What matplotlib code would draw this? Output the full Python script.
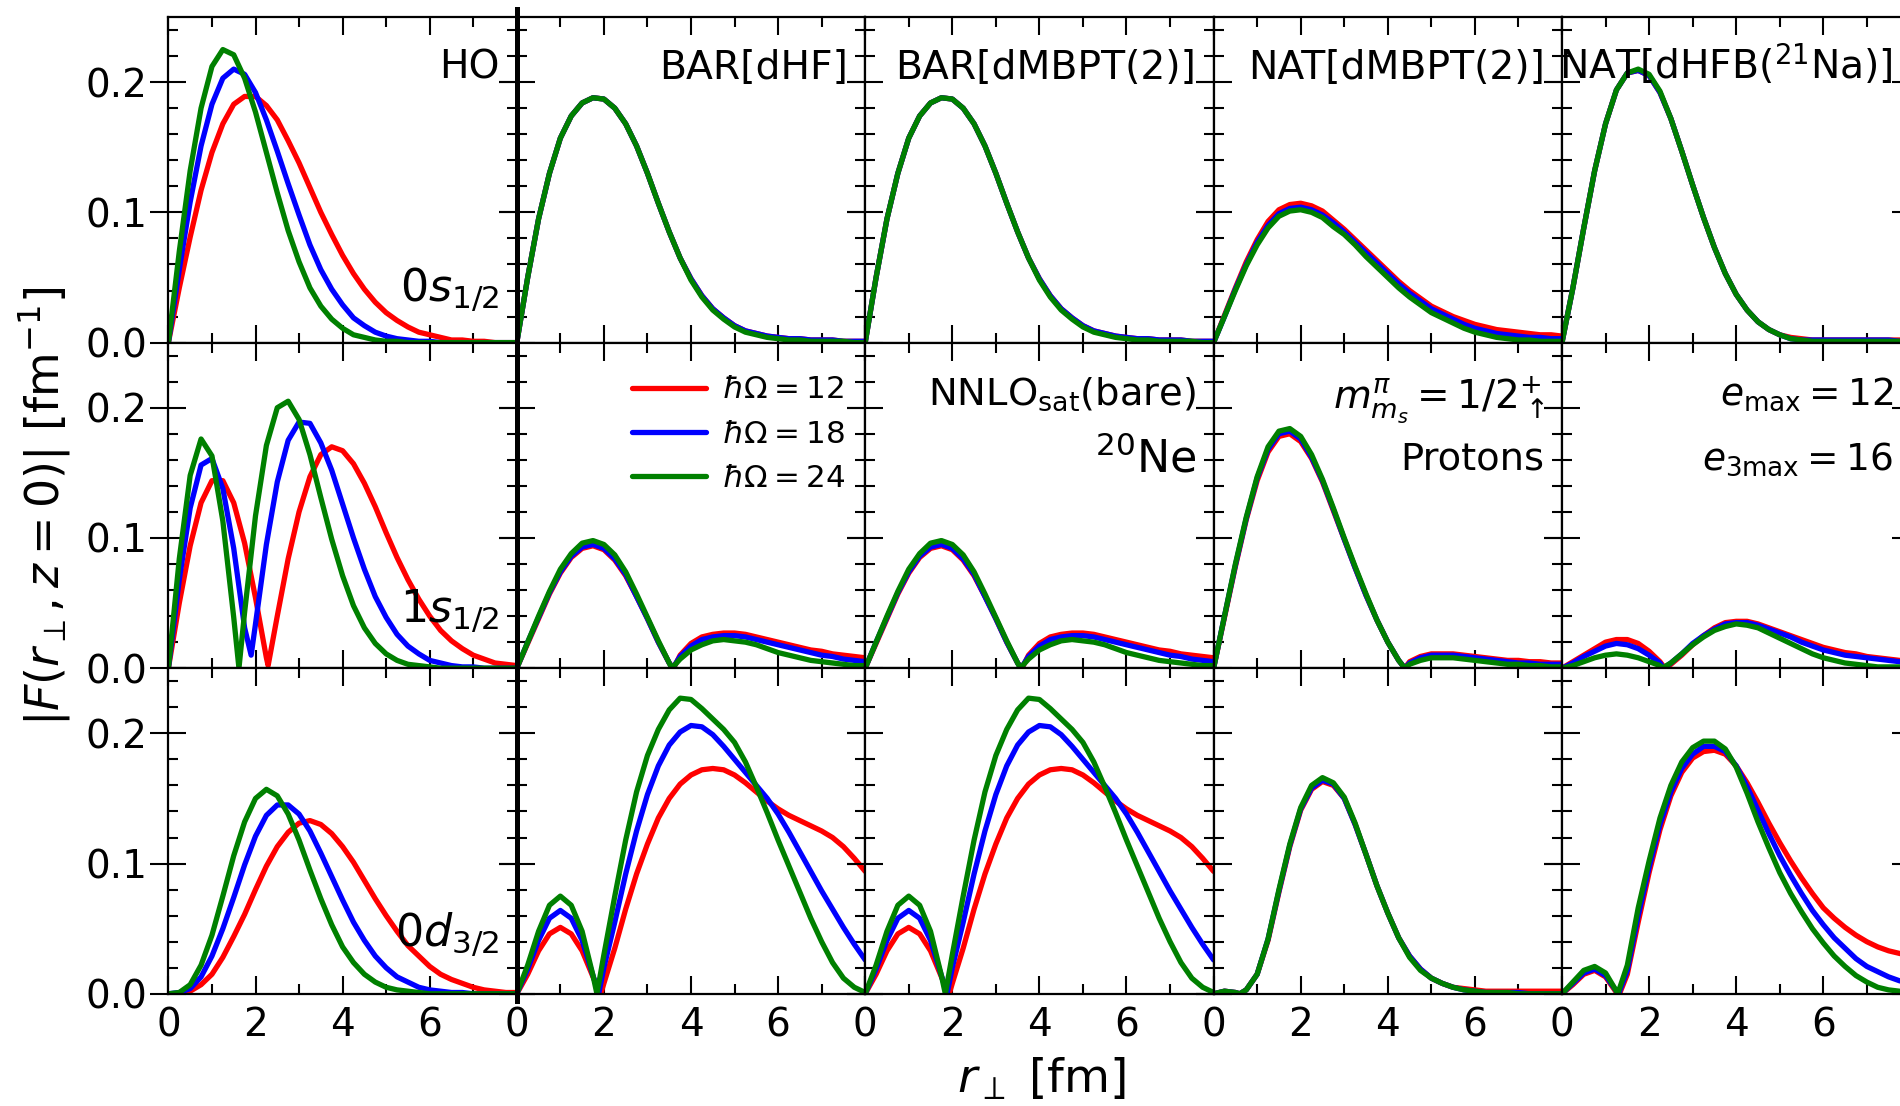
import numpy as np
import matplotlib.pyplot as plt
from matplotlib.lines import Line2D
from matplotlib.ticker import MultipleLocator

# r_perp sampling (fm), 0.25 fm steps
r_perp = np.linspace(0, 8, 33)

hw_labels = [r'$\hbar\Omega = 12$', r'$\hbar\Omega = 18$', r'$\hbar\Omega = 24$']
hw_colors = ['red', 'blue', 'green']
methods = ['HO', 'BAR[dHF]', 'BAR[dMBPT(2)]', 'NAT[dMBPT(2)]', r'NAT[dHFB($^{21}$Na)]']
states = [r'$0s_{1/2}$', r'$1s_{1/2}$', r'$0d_{3/2}$']

# ---- 0s1/2 ----
ho_0s_12 = [0.000, 0.042, 0.081, 0.117, 0.146, 0.168, 0.183, 0.189, 0.189, 0.182, 0.171, 0.155, 0.138, 0.119, 0.100, 0.083,
            0.067, 0.053, 0.041, 0.031, 0.023, 0.017, 0.012, 0.008, 0.006, 0.004, 0.002, 0.002, 0.001, 0.001, 0.000, 0.000, 0.000]
ho_0s_18 = [0.000, 0.056, 0.108, 0.151, 0.183, 0.203, 0.210, 0.206, 0.192, 0.171, 0.147, 0.122, 0.098, 0.075, 0.056, 0.041,
            0.029, 0.019, 0.013, 0.008, 0.005, 0.003, 0.002, 0.001, 0.001, 0.000, 0.000, 0.000, 0.000, 0.000, 0.000, 0.000, 0.000]
ho_0s_24 = [0.000, 0.070, 0.132, 0.180, 0.212, 0.225, 0.221, 0.203, 0.177, 0.146, 0.115, 0.086, 0.062, 0.042, 0.028, 0.018,
            0.011, 0.006, 0.004, 0.002, 0.001, 0.001, 0.000, 0.000, 0.000, 0.000, 0.000, 0.000, 0.000, 0.000, 0.000, 0.000, 0.000]

bar_0s_12 = [0.000, 0.050, 0.095, 0.130, 0.157, 0.174, 0.184, 0.188, 0.187, 0.180, 0.168, 0.151, 0.130, 0.107, 0.085, 0.065,
             0.049, 0.036, 0.026, 0.019, 0.013, 0.009, 0.007, 0.005, 0.004, 0.003, 0.003, 0.002, 0.002, 0.002, 0.001, 0.001, 0.001]
bar_0s_18 = [0.000, 0.050, 0.095, 0.130, 0.157, 0.174, 0.184, 0.188, 0.187, 0.180, 0.168, 0.151, 0.130, 0.107, 0.085, 0.065,
             0.049, 0.036, 0.026, 0.019, 0.013, 0.009, 0.007, 0.005, 0.004, 0.003, 0.003, 0.002, 0.002, 0.002, 0.001, 0.001, 0.001]
bar_0s_24 = [0.000, 0.050, 0.095, 0.130, 0.157, 0.174, 0.184, 0.188, 0.187, 0.180, 0.168, 0.151, 0.130, 0.107, 0.085, 0.065,
             0.048, 0.035, 0.025, 0.018, 0.012, 0.008, 0.006, 0.004, 0.003, 0.002, 0.002, 0.001, 0.001, 0.001, 0.001, 0.000, 0.000]

nat_0s_12 = [0.000, 0.021, 0.042, 0.062, 0.079, 0.093, 0.102, 0.106, 0.107, 0.105, 0.101, 0.094, 0.087, 0.079, 0.071, 0.063,
             0.055, 0.047, 0.040, 0.034, 0.028, 0.024, 0.020, 0.017, 0.014, 0.012, 0.010, 0.009, 0.008, 0.007, 0.006, 0.006, 0.005]
nat_0s_18 = [0.000, 0.020, 0.041, 0.060, 0.077, 0.090, 0.099, 0.103, 0.104, 0.102, 0.098, 0.092, 0.085, 0.077, 0.069, 0.061,
             0.053, 0.045, 0.038, 0.032, 0.026, 0.022, 0.018, 0.014, 0.011, 0.009, 0.007, 0.006, 0.005, 0.004, 0.004, 0.003, 0.003]
nat_0s_24 = [0.000, 0.020, 0.040, 0.059, 0.075, 0.088, 0.097, 0.101, 0.102, 0.100, 0.096, 0.089, 0.083, 0.075, 0.066, 0.058,
             0.050, 0.042, 0.035, 0.029, 0.023, 0.019, 0.015, 0.011, 0.008, 0.006, 0.004, 0.003, 0.002, 0.002, 0.001, 0.001, 0.001]

nah_0s_12 = [0.000, 0.042, 0.088, 0.132, 0.168, 0.194, 0.207, 0.209, 0.205, 0.192, 0.172, 0.147, 0.121, 0.096, 0.073, 0.053,
             0.037, 0.025, 0.016, 0.010, 0.006, 0.004, 0.003, 0.002, 0.002, 0.002, 0.002, 0.002, 0.002, 0.002, 0.002, 0.002, 0.002]
nah_0s_18 = [0.000, 0.042, 0.088, 0.132, 0.168, 0.194, 0.207, 0.209, 0.205, 0.192, 0.172, 0.147, 0.121, 0.096, 0.073, 0.053,
             0.037, 0.025, 0.016, 0.010, 0.006, 0.003, 0.002, 0.002, 0.002, 0.002, 0.002, 0.002, 0.002, 0.002, 0.002, 0.001, 0.001]
nah_0s_24 = [0.000, 0.042, 0.088, 0.132, 0.168, 0.194, 0.207, 0.210, 0.206, 0.193, 0.172, 0.147, 0.121, 0.096, 0.073, 0.053,
             0.037, 0.025, 0.016, 0.010, 0.006, 0.003, 0.002, 0.001, 0.001, 0.001, 0.001, 0.001, 0.001, 0.001, 0.001, 0.001, 0.001]

# ---- 1s1/2 ----
ho_1s_12 = [0.000, 0.050, 0.094, 0.127, 0.144, 0.144, 0.127, 0.096, 0.054, 0.008, 0.040, 0.084, 0.120, 0.147, 0.164, 0.170,
            0.167, 0.157, 0.142, 0.124, 0.104, 0.085, 0.068, 0.053, 0.040, 0.029, 0.021, 0.015, 0.010, 0.007, 0.004, 0.003, 0.002]
ho_1s_18 = [0.000, 0.068, 0.123, 0.156, 0.161, 0.138, 0.092, 0.031, 0.034, 0.095, 0.143, 0.175, 0.189, 0.188, 0.173, 0.152,
            0.126, 0.100, 0.076, 0.055, 0.039, 0.026, 0.017, 0.011, 0.006, 0.004, 0.002, 0.001, 0.001, 0.000, 0.000, 0.000, 0.000]
ho_1s_24 = [0.000, 0.084, 0.148, 0.176, 0.163, 0.113, 0.039, 0.043, 0.117, 0.171, 0.200, 0.205, 0.191, 0.164, 0.131, 0.099,
            0.071, 0.048, 0.031, 0.019, 0.011, 0.006, 0.003, 0.002, 0.001, 0.000, 0.000, 0.000, 0.000, 0.000, 0.000, 0.000, 0.000]
ho_1s_nodes = [(2.29, 0.002), (1.90, 0.010), (1.62, 0.000)]

bar_1s_12 = [0.000, 0.019, 0.038, 0.057, 0.073, 0.085, 0.092, 0.094, 0.091, 0.083, 0.071, 0.055, 0.038, 0.020, 0.004, 0.010,
             0.019, 0.024, 0.026, 0.027, 0.027, 0.026, 0.024, 0.022, 0.020, 0.018, 0.016, 0.014, 0.013, 0.011, 0.010, 0.009, 0.008]
bar_1s_18 = [0.000, 0.020, 0.039, 0.058, 0.074, 0.086, 0.093, 0.095, 0.092, 0.084, 0.072, 0.055, 0.038, 0.020, 0.004, 0.009,
             0.017, 0.022, 0.024, 0.025, 0.025, 0.024, 0.022, 0.020, 0.018, 0.016, 0.014, 0.012, 0.010, 0.009, 0.007, 0.006, 0.005]
bar_1s_24 = [0.000, 0.020, 0.040, 0.059, 0.076, 0.088, 0.096, 0.098, 0.095, 0.087, 0.074, 0.057, 0.039, 0.021, 0.004, 0.007,
             0.014, 0.018, 0.021, 0.022, 0.021, 0.020, 0.018, 0.015, 0.012, 0.010, 0.008, 0.006, 0.005, 0.004, 0.003, 0.002, 0.002]
bar_1s_nodes = [(3.60, 0.0), (3.58, 0.0), (3.56, 0.0)]

nat_1s_12 = [0.000, 0.039, 0.078, 0.114, 0.144, 0.166, 0.178, 0.180, 0.174, 0.161, 0.143, 0.121, 0.099, 0.077, 0.056, 0.037,
             0.020, 0.006, 0.005, 0.009, 0.011, 0.011, 0.011, 0.010, 0.009, 0.008, 0.007, 0.006, 0.006, 0.005, 0.005, 0.004, 0.004]
nat_1s_18 = [0.000, 0.040, 0.079, 0.115, 0.146, 0.168, 0.180, 0.182, 0.176, 0.162, 0.144, 0.122, 0.099, 0.077, 0.056, 0.037,
             0.020, 0.006, 0.004, 0.008, 0.010, 0.010, 0.010, 0.009, 0.008, 0.007, 0.006, 0.005, 0.004, 0.004, 0.003, 0.003, 0.003]
nat_1s_24 = [0.000, 0.040, 0.080, 0.116, 0.147, 0.170, 0.182, 0.184, 0.178, 0.164, 0.145, 0.123, 0.100, 0.078, 0.057, 0.037,
             0.020, 0.006, 0.003, 0.006, 0.008, 0.008, 0.008, 0.007, 0.006, 0.005, 0.004, 0.003, 0.003, 0.002, 0.002, 0.001, 0.001]
nat_1s_nodes = [(4.39, 0.0), (4.39, 0.0), (4.39, 0.0)]

nah_1s_12 = [0.000, 0.005, 0.010, 0.015, 0.020, 0.022, 0.022, 0.019, 0.013, 0.005, 0.003, 0.010, 0.018, 0.025, 0.031, 0.035,
             0.036, 0.036, 0.034, 0.031, 0.028, 0.025, 0.022, 0.019, 0.016, 0.014, 0.012, 0.011, 0.009, 0.008, 0.007, 0.006, 0.006]
nah_1s_18 = [0.000, 0.004, 0.009, 0.013, 0.017, 0.019, 0.018, 0.015, 0.010, 0.004, 0.004, 0.011, 0.019, 0.025, 0.030, 0.034,
             0.035, 0.035, 0.033, 0.030, 0.027, 0.024, 0.020, 0.017, 0.014, 0.012, 0.010, 0.009, 0.008, 0.007, 0.006, 0.005, 0.005]
nah_1s_24 = [0.000, 0.002, 0.005, 0.008, 0.010, 0.011, 0.010, 0.008, 0.005, 0.002, 0.004, 0.011, 0.018, 0.024, 0.029, 0.032,
             0.034, 0.033, 0.031, 0.027, 0.023, 0.019, 0.015, 0.011, 0.008, 0.006, 0.004, 0.003, 0.002, 0.001, 0.001, 0.001, 0.000]
nah_1s_nodes = [(2.36, 0.0), (2.33, 0.0), (2.30, 0.0)]

# ---- 0d3/2 ----
ho_0d_12 = [0.000, 0.000, 0.002, 0.007, 0.015, 0.028, 0.044, 0.061, 0.080, 0.098, 0.113, 0.124, 0.131, 0.133, 0.130, 0.123,
            0.113, 0.101, 0.087, 0.073, 0.060, 0.048, 0.037, 0.029, 0.021, 0.015, 0.011, 0.008, 0.005, 0.003, 0.002, 0.001, 0.001]
ho_0d_18 = [0.000, 0.001, 0.004, 0.013, 0.029, 0.050, 0.074, 0.099, 0.121, 0.137, 0.145, 0.145, 0.138, 0.125, 0.108, 0.090,
            0.072, 0.055, 0.041, 0.029, 0.020, 0.013, 0.009, 0.005, 0.003, 0.002, 0.001, 0.001, 0.000, 0.000, 0.000, 0.000, 0.000]
ho_0d_24 = [0.000, 0.001, 0.007, 0.022, 0.045, 0.075, 0.106, 0.132, 0.150, 0.157, 0.152, 0.138, 0.118, 0.095, 0.073, 0.053,
            0.036, 0.024, 0.015, 0.009, 0.005, 0.003, 0.002, 0.001, 0.000, 0.000, 0.000, 0.000, 0.000, 0.000, 0.000, 0.000, 0.000]

bar_0d_12 = [0.000, 0.015, 0.033, 0.046, 0.051, 0.046, 0.033, 0.013, 0.008, 0.035, 0.065, 0.092, 0.115, 0.135, 0.150, 0.161,
             0.168, 0.172, 0.173, 0.172, 0.168, 0.162, 0.155, 0.148, 0.142, 0.137, 0.133, 0.129, 0.125, 0.120, 0.113, 0.104, 0.094]
bar_0d_18 = [0.000, 0.019, 0.041, 0.058, 0.064, 0.058, 0.041, 0.014, 0.020, 0.055, 0.092, 0.125, 0.153, 0.175, 0.191, 0.201,
             0.206, 0.205, 0.199, 0.190, 0.180, 0.170, 0.160, 0.150, 0.138, 0.124, 0.109, 0.094, 0.079, 0.065, 0.051, 0.038, 0.026]
bar_0d_24 = [0.000, 0.022, 0.048, 0.068, 0.075, 0.068, 0.048, 0.014, 0.030, 0.075, 0.118, 0.155, 0.183, 0.203, 0.218, 0.227,
             0.226, 0.219, 0.211, 0.203, 0.193, 0.178, 0.159, 0.139, 0.118, 0.098, 0.078, 0.058, 0.040, 0.024, 0.012, 0.005, 0.001]
bar_0d_nodes = [(1.93, 0.0), (1.88, 0.0), (1.84, 0.0)]

nat_0d_12 = [0.000, 0.002, 0.001, 0.003, 0.015, 0.041, 0.078, 0.113, 0.141, 0.157, 0.163, 0.160, 0.150, 0.130, 0.107, 0.083,
             0.062, 0.043, 0.029, 0.019, 0.012, 0.008, 0.005, 0.004, 0.003, 0.002, 0.002, 0.002, 0.002, 0.002, 0.002, 0.002, 0.002]
nat_0d_18 = [0.000, 0.002, 0.001, 0.003, 0.015, 0.042, 0.079, 0.114, 0.142, 0.158, 0.164, 0.161, 0.150, 0.130, 0.107, 0.083,
             0.062, 0.043, 0.029, 0.019, 0.012, 0.008, 0.005, 0.003, 0.002, 0.001, 0.001, 0.001, 0.001, 0.000, 0.000, 0.000, 0.000]
nat_0d_24 = [0.000, 0.002, 0.001, 0.003, 0.015, 0.042, 0.080, 0.115, 0.143, 0.160, 0.166, 0.162, 0.151, 0.131, 0.107, 0.083,
             0.062, 0.043, 0.028, 0.018, 0.012, 0.008, 0.005, 0.003, 0.002, 0.001, 0.001, 0.001, 0.000, 0.000, 0.000, 0.000, 0.000]
nat_0d_nodes = [(0.60, 0.0), (0.60, 0.0), (0.60, 0.0)]

nah_0d_12 = [0.000, 0.007, 0.015, 0.018, 0.013, 0.001, 0.015, 0.055, 0.093, 0.126, 0.152, 0.170, 0.181, 0.186, 0.187, 0.184,
             0.175, 0.162, 0.147, 0.131, 0.116, 0.102, 0.089, 0.077, 0.066, 0.058, 0.051, 0.045, 0.040, 0.036, 0.033, 0.031, 0.029]
nah_0d_18 = [0.000, 0.008, 0.016, 0.019, 0.014, 0.002, 0.018, 0.060, 0.097, 0.130, 0.155, 0.173, 0.184, 0.190, 0.190, 0.186,
             0.175, 0.159, 0.141, 0.123, 0.106, 0.091, 0.077, 0.064, 0.053, 0.043, 0.035, 0.027, 0.021, 0.017, 0.013, 0.010, 0.008]
nah_0d_24 = [0.000, 0.009, 0.018, 0.021, 0.016, 0.002, 0.022, 0.066, 0.102, 0.135, 0.160, 0.178, 0.189, 0.194, 0.194, 0.188,
             0.174, 0.154, 0.132, 0.112, 0.093, 0.077, 0.063, 0.050, 0.039, 0.029, 0.021, 0.014, 0.009, 0.005, 0.003, 0.002, 0.001]
nah_0d_nodes = [(1.32, 0.0), (1.30, 0.0), (1.28, 0.0)]

panels = [
    [(ho_0s_12, ho_0s_18, ho_0s_24), (bar_0s_12, bar_0s_18, bar_0s_24), (bar_0s_12, bar_0s_18, bar_0s_24),
     (nat_0s_12, nat_0s_18, nat_0s_24), (nah_0s_12, nah_0s_18, nah_0s_24)],
    [(ho_1s_12, ho_1s_18, ho_1s_24), (bar_1s_12, bar_1s_18, bar_1s_24), (bar_1s_12, bar_1s_18, bar_1s_24),
     (nat_1s_12, nat_1s_18, nat_1s_24), (nah_1s_12, nah_1s_18, nah_1s_24)],
    [(ho_0d_12, ho_0d_18, ho_0d_24), (bar_0d_12, bar_0d_18, bar_0d_24), (bar_0d_12, bar_0d_18, bar_0d_24),
     (nat_0d_12, nat_0d_18, nat_0d_24), (nah_0d_12, nah_0d_18, nah_0d_24)],
]
panel_nodes = [
    [None, None, None, None, None],
    [ho_1s_nodes, bar_1s_nodes, bar_1s_nodes, nat_1s_nodes, nah_1s_nodes],
    [None, bar_0d_nodes, bar_0d_nodes, nat_0d_nodes, nah_0d_nodes],
]


def with_node(y, node):
    x = np.asarray(r_perp)
    y = np.asarray(y, dtype=float)
    assert len(y) == len(x)
    if node is None:
        return x, y
    x = np.append(x, node[0])
    y = np.append(y, node[1])
    order = np.argsort(x)
    return x[order], y[order]


fig = plt.figure(figsize=(19, 11.06), dpi=100)

W, H = 1900.0, 1106.0
left0, colw = 168.4, 348.4
top0, rowh = 17.0, 325.6
row_label_y = [0.125, 0.14, 0.145]

axes = []
for i in range(3):
    row = []
    for j in range(5):
        ax = fig.add_axes([(left0 + j * colw) / W, 1 - (top0 + (i + 1) * rowh) / H, colw / W, rowh / H])
        for k in range(3):
            x, y = with_node(panels[i][j][k], None if panel_nodes[i][j] is None else panel_nodes[i][j][k])
            ax.plot(x, y, color=hw_colors[k], lw=3.8, label=hw_labels[k],
                    solid_capstyle='round', solid_joinstyle='round')
        ax.set_xlim(0, 8)
        ax.set_ylim(0, 0.25)
        ax.xaxis.set_major_locator(MultipleLocator(2))
        ax.xaxis.set_minor_locator(MultipleLocator(1))
        ax.yaxis.set_major_locator(MultipleLocator(0.1))
        ax.yaxis.set_minor_locator(MultipleLocator(0.02))
        for s in ax.spines.values():
            s.set_linewidth(1.6)
        ax.tick_params(axis='x', which='both', direction='in', top=True, bottom=True, width=1.5, labelsize=28, pad=9)
        ax.tick_params(axis='x', which='major', length=13)
        ax.tick_params(axis='x', which='minor', length=7)
        ax.tick_params(axis='y', which='major', direction='inout', length=26, width=1.5, left=True, right=True,
                       labelsize=28, pad=2)
        ax.tick_params(axis='y', which='minor', direction='in', length=7, width=1.5, left=True, right=True)
        if i == 2:
            ax.set_xticks([0, 2, 4, 6, 8])
            ax.set_xticklabels(['0', '2', '4', '6', ''])
        else:
            ax.tick_params(axis='x', labelbottom=False)
        if j == 0:
            ax.set_yticks([0, 0.1, 0.2])
            ax.set_yticklabels(['0.0', '0.1', '0.2'])
        else:
            ax.tick_params(axis='y', labelleft=False)
        row.append(ax)
    axes.append(row)

# method names on top row
for j in range(5):
    axes[0][j].text(0.95, 0.81, methods[j], transform=axes[0][j].transAxes, ha='right', va='baseline', fontsize=28.3)

# orbital labels in first column
for i in range(3):
    axes[i][0].text(0.95, row_label_y[i], states[i], transform=axes[i][0].transAxes, ha='right', va='baseline',
                    fontsize=32)

# middle row annotations
axes[1][1].legend(loc='upper left', bbox_to_anchor=(0.25, 0.985), frameon=False, fontsize=22.3,
                  handlelength=2.4, handletextpad=0.5, labelspacing=0.5)
axes[1][2].text(0.95, 0.81, r'NNLO$_{\mathrm{sat}}$(bare)', transform=axes[1][2].transAxes, ha='right',
                va='baseline', fontsize=27.7)
axes[1][2].text(0.95, 0.60, r'$^{20}$Ne', transform=axes[1][2].transAxes, ha='right', va='baseline', fontsize=32)
axes[1][3].text(0.95, 0.80, r'$m^{\pi}_{m_s} = 1/2^{+}_{\uparrow}$', transform=axes[1][3].transAxes, ha='right',
                va='baseline', fontsize=28)
axes[1][3].text(0.95, 0.61, 'Protons', transform=axes[1][3].transAxes, ha='right', va='baseline', fontsize=27.7)
axes[1][4].text(0.95, 0.81, r'$e_{\mathrm{max}} = 12$', transform=axes[1][4].transAxes, ha='right',
                va='baseline', fontsize=27)
axes[1][4].text(0.95, 0.61, r'$e_{\mathrm{3max}} = 16$', transform=axes[1][4].transAxes, ha='right',
                va='baseline', fontsize=27)

# thick separator between HO and the rest
xs = (left0 + colw) / W
fig.add_artist(Line2D([xs, xs], [1 - 9 / H, 1 - 1001 / H], transform=fig.transFigure, color='black', lw=3.6))

fig.text(0.0235, 0.5425, r'$|F(r_\perp, z = 0)|$ [fm$^{-1}$]', rotation=90, ha='center', va='center', fontsize=33)
fig.text(0.548, 0.024, r'$r_\perp$ [fm]', ha='center', va='center', fontsize=34)

fig.savefig('out.png', dpi=100)
